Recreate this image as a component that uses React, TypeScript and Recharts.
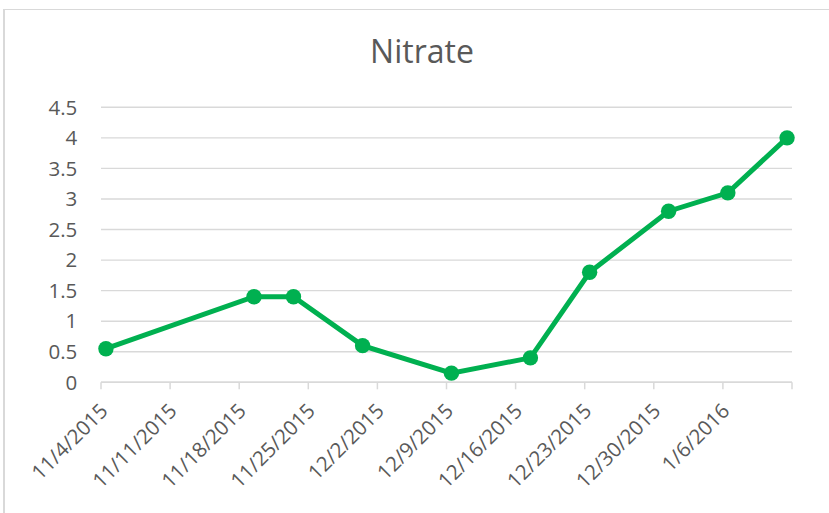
import React from 'react';
import { LineChart, Line, XAxis, YAxis, CartesianGrid } from 'recharts';

// sample dates and nitrate readings
const sampleDates = [
    '2015-11-04', '2015-11-19', '2015-11-23', '2015-11-30', '2015-12-09',
    '2015-12-17', '2015-12-23', '2015-12-31', '2016-01-06', '2016-01-12',
];
const nitrate = [0.55, 1.4, 1.4, 0.6, 0.15, 0.4, 1.8, 2.8, 3.1, 4.0];

// weekly axis ticks, the last one is the axis end and has no label
const tickDates = [
    '2015-11-04', '2015-11-11', '2015-11-18', '2015-11-25', '2015-12-02', '2015-12-09',
    '2015-12-16', '2015-12-23', '2015-12-30', '2016-01-06', '2016-01-13',
];
const tickLabels = [
    '11/4/2015', '11/11/2015', '11/18/2015', '11/25/2015', '12/2/2015', '12/9/2015',
    '12/16/2015', '12/23/2015', '12/30/2015', '1/6/2016', '',
];
const yTicks = [0, 0.5, 1, 1.5, 2, 2.5, 3, 3.5, 4, 4.5];

const DAY = 24 * 3600 * 1000;
const toTime = (s: string) => Date.parse(s + 'T00:00:00Z');

// excel centres each date point inside its day slot
const data = sampleDates.map((d, i) => ({ t: toTime(d) + DAY / 2, value: nitrate[i] }));
const xTicks = tickDates.map(toTime);

const FONT = '"Open Sans", sans-serif';
const TEXT = '#595959';
const GRID = '#d9d9d9';

const XTick = (props: any) => {
    const { x, y, payload } = props;
    const idx = xTicks.indexOf(payload.value);
    const label = idx >= 0 ? tickLabels[idx] : '';
    return (
        <text
            transform={`translate(${x + 8},${y + 21}) rotate(-45)`}
            textAnchor="end"
            fontFamily={FONT}
            fontSize={20.5}
            fill={TEXT}
        >
            {label}
        </text>
    );
};

const YTick = (props: any) => {
    const { y, payload } = props;
    return (
        <text
            x={77.3}
            y={y + 7.3}
            textAnchor="end"
            fontFamily={FONT}
            fontSize={20.5}
            fill={TEXT}
        >
            {payload.value}
        </text>
    );
};

export default function App() {
    return (
        <div style={{ position: 'absolute', left: 0, top: 0, width: 829, height: 513, overflow: 'hidden', background: '#fff' }}>
            <div
                style={{
                    position: 'absolute', left: 3, top: 9, width: 900, height: 600,
                    borderTop: `1.5px solid ${GRID}`, borderLeft: `2px solid ${GRID}`,
                }}
            />
            <svg width={829} height={80} style={{ position: 'absolute', left: 0, top: 0 }}>
                <text x={422} y={63.3} textAnchor="middle" fontFamily={FONT} fontSize={32} fill={TEXT}>
                    Nitrate
                </text>
            </svg>
            <div style={{ position: 'absolute', left: 0, top: 0 }}>
                <LineChart
                    width={829}
                    height={513}
                    data={data}
                    margin={{ top: 107.3, right: 37, left: 41, bottom: 30.7 }}
                >
                    <CartesianGrid vertical={false} stroke={GRID} strokeWidth={1.4} />
                    <XAxis
                        dataKey="t"
                        type="number"
                        domain={[xTicks[0], xTicks[xTicks.length - 1]]}
                        ticks={xTicks}
                        interval={0}
                        height={100}
                        tickSize={7}
                        axisLine={{ stroke: GRID, strokeWidth: 1.5 }}
                        tickLine={{ stroke: GRID, strokeWidth: 1.5 }}
                        tick={<XTick />}
                    />
                    <YAxis
                        domain={[0, 4.5]}
                        ticks={yTicks}
                        interval={0}
                        width={60}
                        axisLine={false}
                        tickLine={false}
                        tick={<YTick />}
                    />
                    <Line
                        dataKey="value"
                        stroke="#00b050"
                        strokeWidth={5}
                        dot={{ r: 7.7, fill: '#00b050', stroke: 'none' }}
                        activeDot={false}
                        isAnimationActive={false}
                    />
                </LineChart>
            </div>
        </div>
    );
}
